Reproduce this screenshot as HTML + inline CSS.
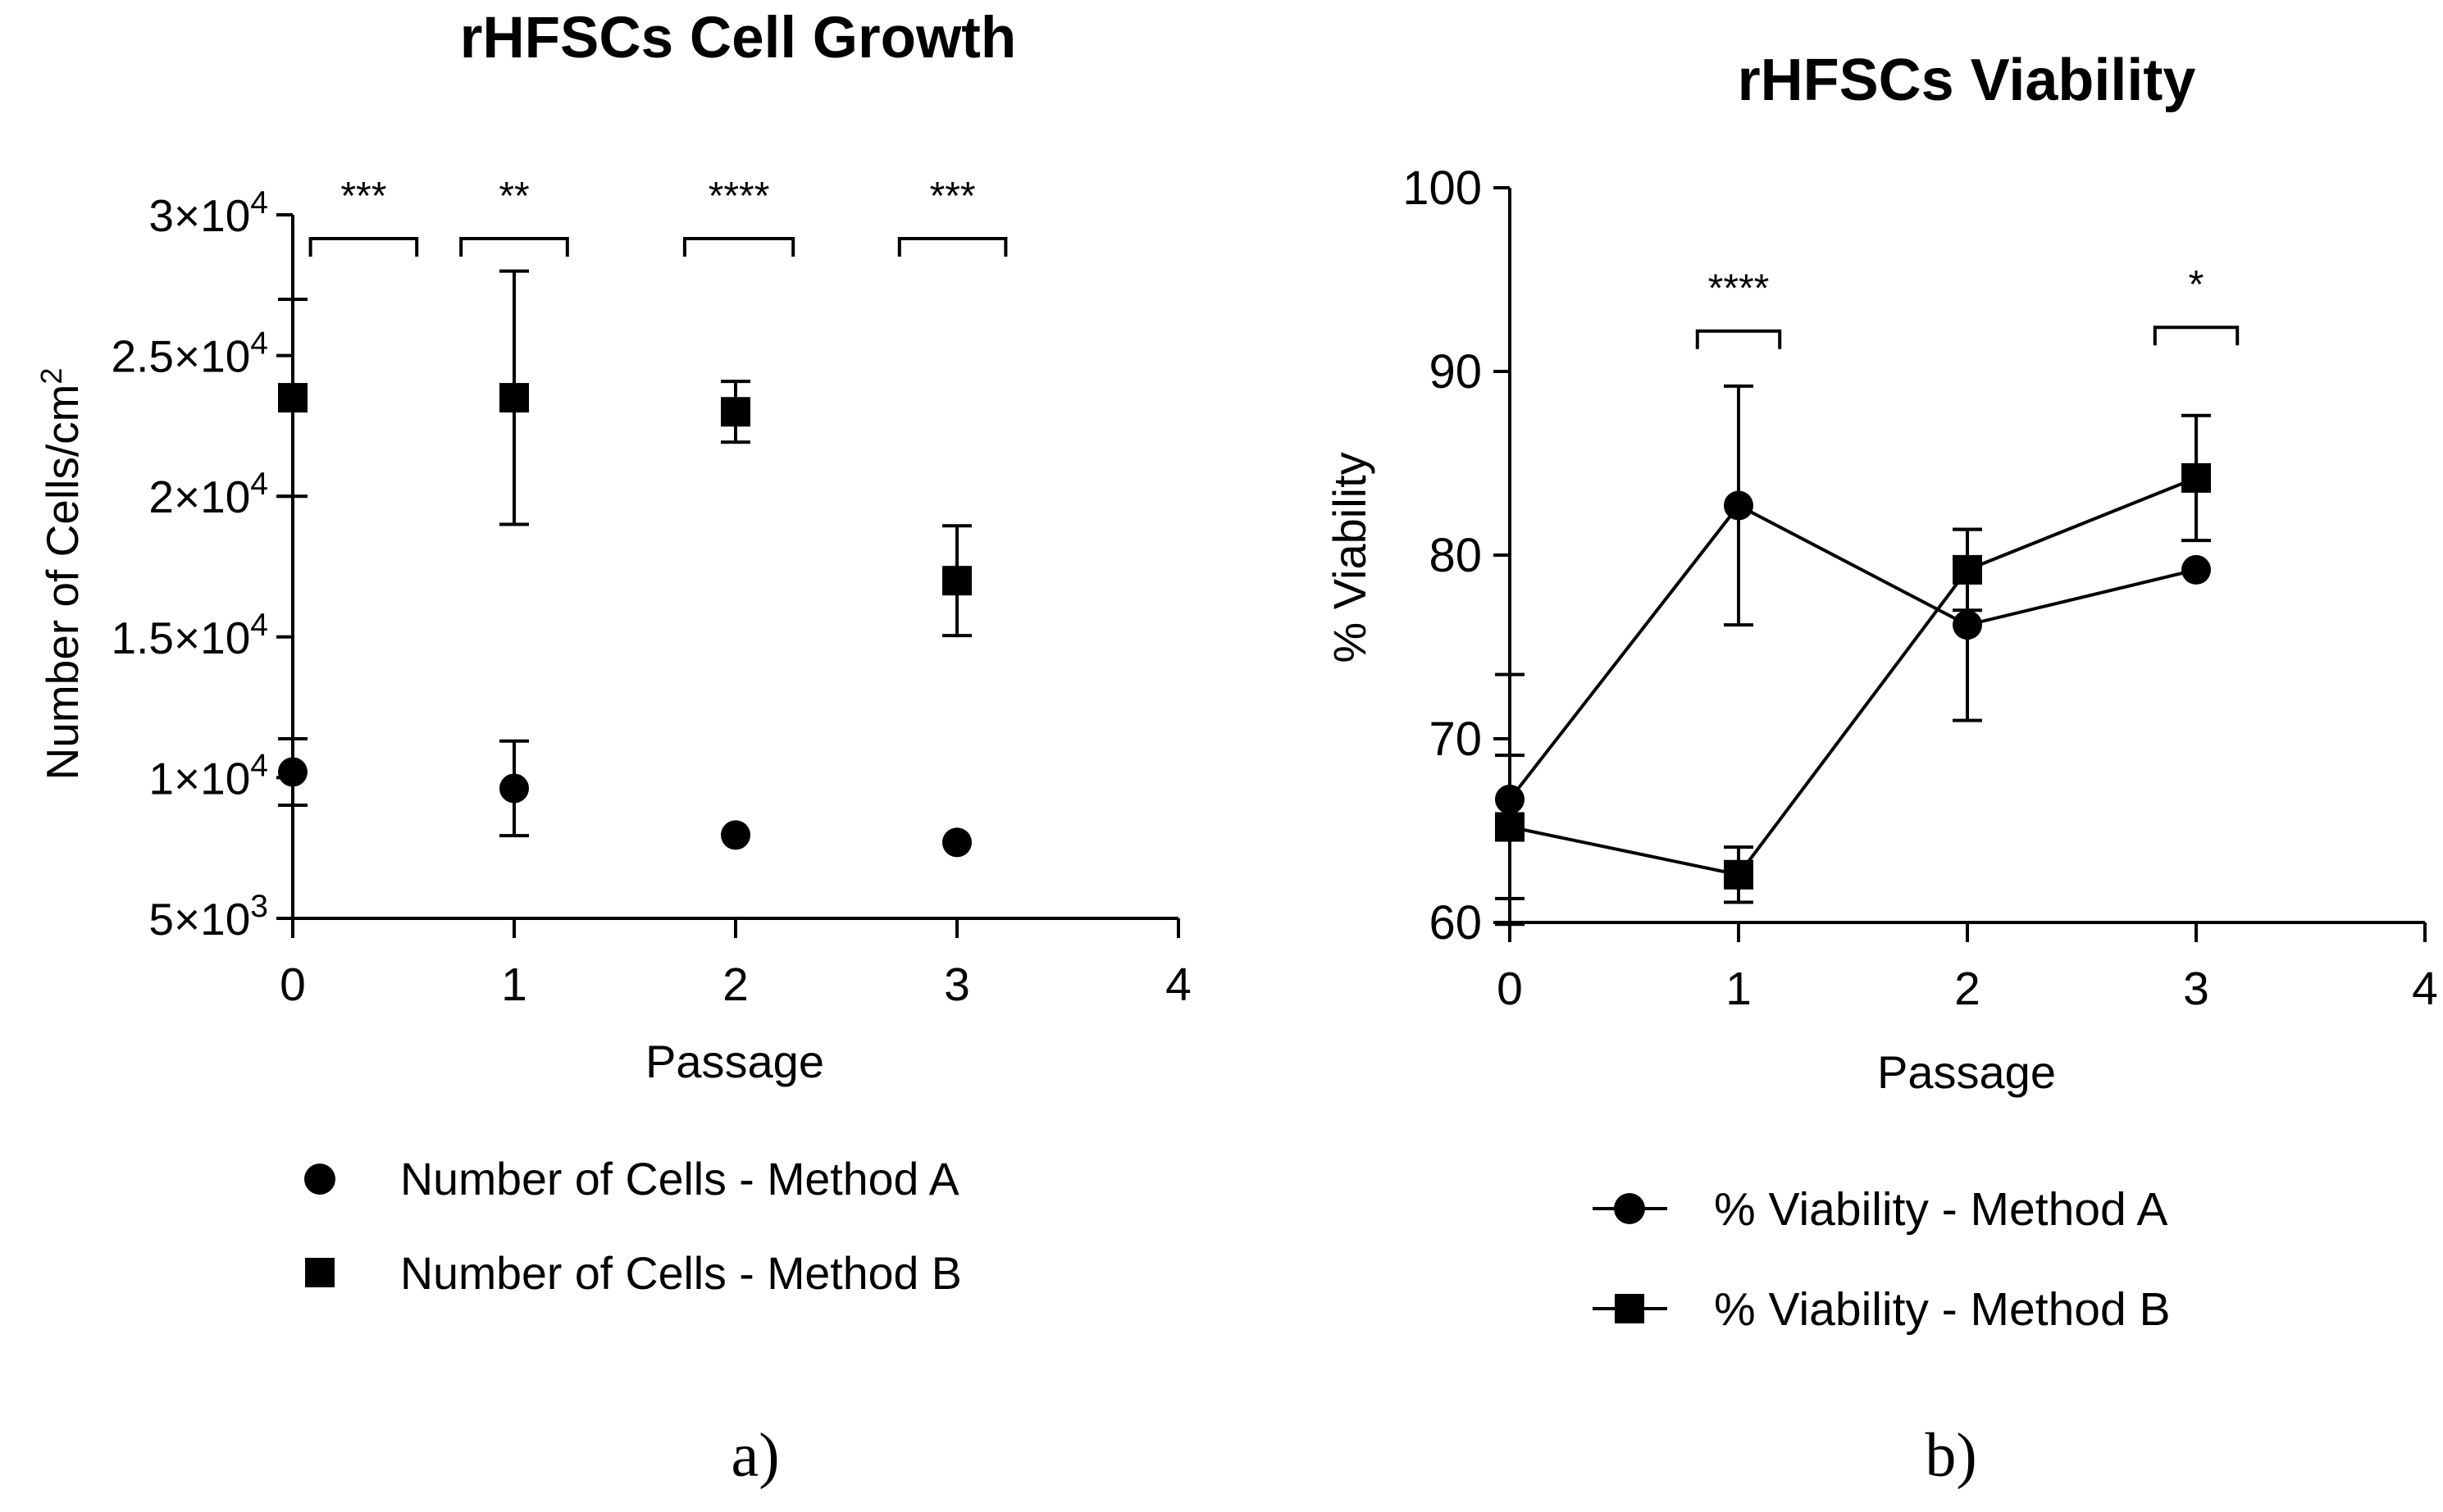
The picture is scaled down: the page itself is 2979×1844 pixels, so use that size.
<!DOCTYPE html>
<html><head><meta charset="utf-8"><style>
html,body{margin:0;padding:0;background:#fff}
svg{display:block;font-family:"Liberation Sans",Arial,sans-serif}
</style></head><body>
<svg id="fig" width="2979" height="1844" viewBox="0 0 2979 1844" xmlns="http://www.w3.org/2000/svg">
<text x="900" y="70" font-size="71" font-weight="bold" text-anchor="middle">rHFSCs Cell Growth</text>
<text x="2398" y="122" font-size="72" font-weight="bold" text-anchor="middle">rHFSCs Viability</text>
<text x="896" y="1314" font-size="56" text-anchor="middle">Passage</text>
<text x="2398" y="1327" font-size="56" text-anchor="middle">Passage</text>
<text transform="translate(95,700) rotate(-90)" font-size="55" text-anchor="middle">Number of Cells/cm<tspan dy="-20" font-size="36">2</tspan></text>
<text transform="translate(1665,680) rotate(-90)" font-size="56" text-anchor="middle">% Viability</text>
<g>
<circle cx="390" cy="1438" r="19" fill="#000"/>
<text x="488" y="1457" font-size="55.5">Number of Cells - Method A</text>
<rect x="372" y="1534" width="36" height="36" fill="#000"/>
<text x="488" y="1572" font-size="55.5">Number of Cells - Method B</text>
</g>
<g>
<line x1="1942" y1="1474" x2="2033" y2="1474" stroke="#000" stroke-width="4"/>
<circle cx="1987" cy="1474" r="19" fill="#000"/>
<text x="2090" y="1494" font-size="57">% Viability - Method A</text>
<line x1="1942" y1="1596" x2="2033" y2="1596" stroke="#000" stroke-width="4"/>
<rect x="1969" y="1578" width="36" height="36" fill="#000"/>
<text x="2090" y="1616" font-size="57">% Viability - Method B</text>
</g>
<text x="921" y="1800" font-size="76" font-family="Liberation Serif,serif" text-anchor="middle">a)</text>
<text x="2379" y="1800" font-size="76" font-family="Liberation Serif,serif" text-anchor="middle">b)</text>
<g id="left"></g>
<g id="right"></g>
</svg>
<script>
const passages = [0, 1, 2, 3];
const xTicks = [0, 1, 2, 3, 4];
const growthYTicks = [5000, 10000, 15000, 20000, 25000, 30000];
const growthYTickLabels = [["5×10","3"], ["1×10","4"], ["1.5×10","4"], ["2×10","4"], ["2.5×10","4"], ["3×10","4"]];
const cellsA = [10200, 9620, 7960, 7700];
const cellsAErr = [1180, 1680, 0, 0];
const cellsB = [23500, 23500, 23000, 17000];
const cellsBErr = [3500, 4500, 1080, 1950];
const growthSig = [["***", 0.08, 0.56], ["**", 0.76, 1.24], ["****", 1.77, 2.26], ["***", 2.74, 3.22]];
const viaYTicks = [60, 70, 80, 90, 100];
const viaA = [66.7, 82.7, 76.2, 79.2];
const viaAErr = [6.8, 6.5, 5.2, 0];
const viaB = [65.2, 62.6, 79.2, 84.2];
const viaBErr = [3.9, 1.5, 2.2, 3.4];
const viaSig = [["****", 0.82, 1.18, 92.2], ["*", 2.82, 3.18, 92.4]];

const NS = "http://www.w3.org/2000/svg";
function mk(parent, tag, attrs, text) {
  const e = document.createElementNS(NS, tag);
  for (const k in attrs) e.setAttribute(k, attrs[k]);
  if (text !== undefined) e.textContent = text;
  parent.appendChild(e);
  return e;
}

function drawPanel(g, xs, ys, yTicks, yLabelFn, seriesList, sig, sigY, connect, xDomainMax) {
  const yAxis = mk(g, "line", {x1: xs(0), y1: ys(yTicks[yTicks.length-1]), x2: xs(0), y2: ys(yTicks[0]) + 20, stroke: "#000", "stroke-width": 4});
  
  
  const xAxis = mk(g, "line", {x1: xs(0) - 20, y1: ys(yTicks[0]), x2: xs(xDomainMax), y2: ys(yTicks[0]), stroke: "#000", "stroke-width": 4});
  
  
  yTicks.forEach((v, i) => {
    mk(g, "line", {x1: xs(0) - 20, y1: ys(v), x2: xs(0), y2: ys(v), stroke: "#000", "stroke-width": 4});
    const t = yLabelFn(g, v, i);
    
    
  });
  xTicks.forEach(v => {
    mk(g, "line", {x1: xs(v), y1: ys(yTicks[0]), x2: xs(v), y2: ys(yTicks[0]) + 24, stroke: "#000", "stroke-width": 4});
    const t = mk(g, "text", {x: xs(v), y: ys(yTicks[0]) + 100, "font-size": 57, "text-anchor": "middle"}, String(v));
    
    
  });
  seriesList.forEach(s => {
    if (connect) {
      const pts = passages.map((p, i) => xs(p) + "," + ys(s.vals[i])).join(" ");
      const pl = mk(g, "polyline", {points: pts, fill: "none", stroke: "#000", "stroke-width": 4});
      
      
    }
    passages.forEach((p, i) => {
      const e = s.errs[i];
      if (e > 0) {
        const x = xs(p), y1 = ys(s.vals[i] + e), y2 = ys(s.vals[i] - e);
        const eb = mk(g, "path", {d: `M${x},${y1}V${y2}M${x-18},${y1}H${x+18}M${x-18},${y2}H${x+18}`, stroke: "#000", "stroke-width": 4, fill: "none"});
        
        
      }
      let m;
      if (s.shape === "circle") m = mk(g, "circle", {cx: xs(p), cy: ys(s.vals[i]), r: 18, fill: "#000"});
      else m = mk(g, "rect", {x: xs(p) - 18, y: ys(s.vals[i]) - 18, width: 36, height: 36, fill: "#000"});
      
      
    });
  });
  sig.forEach(s => {
    const x1 = xs(s[1]), x2 = xs(s[2]);
    const y = sigY(s);
    const br = mk(g, "path", {d: `M${x1},${y+22}V${y}H${x2}V${y+22}`, stroke: "#000", "stroke-width": 4, fill: "none"});
    
    
    const t = mk(g, "text", {x: (x1 + x2) / 2, y: y - 36, "font-size": 48, "text-anchor": "middle"}, s[0]);
    
    
  });
}

// left
const lx = v => 357 + v * 270;
const ly = v => 262 + (30000 - v) / 5000 * 171.6;
drawPanel(document.getElementById("left"), lx, ly, growthYTicks,
  (g, v, i) => {
    const t = mk(g, "text", {x: lx(0) - 30, y: ly(v) + 20, "font-size": 55, "text-anchor": "end"});
    const a = document.createElementNS(NS, "tspan"); a.textContent = growthYTickLabels[i][0]; t.appendChild(a);
    const b = document.createElementNS(NS, "tspan"); b.setAttribute("dy", "-22"); b.setAttribute("font-size", "39"); b.textContent = growthYTickLabels[i][1]; t.appendChild(b);
    return t;
  },
  [{name: "cells-method-a", vals: cellsA, errs: cellsAErr, shape: "circle"},
   {name: "cells-method-b", vals: cellsB, errs: cellsBErr, shape: "square"}],
  growthSig, s => 291, false, 4);

// right
const rx = v => 1841 + v * 279;
const ry = v => 229 + (100 - v) * 22.4;
drawPanel(document.getElementById("right"), rx, ry, viaYTicks,
  (g, v) => mk(g, "text", {x: rx(0) - 34, y: ry(v) + 20, "font-size": 58, "text-anchor": "end"}, String(v)),
  [{name: "viability-method-a", vals: viaA, errs: viaAErr, shape: "circle"},
   {name: "viability-method-b", vals: viaB, errs: viaBErr, shape: "square"}],
  viaSig, s => ry(s[3]), true, 4);
</script>
</body></html>
